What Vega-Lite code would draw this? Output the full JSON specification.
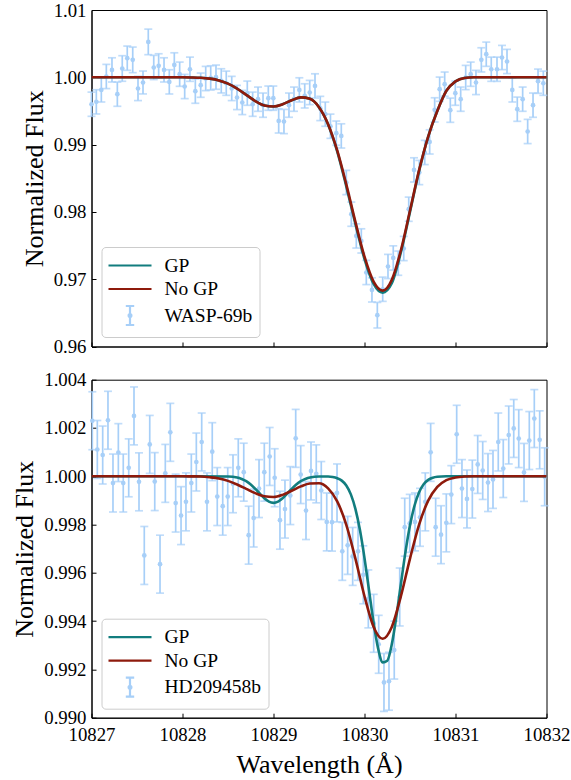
{
  "$schema": "https://vega.github.io/schema/vega-lite/v6.json",
  "background": "white",
  "padding": {"left": 10.5, "top": 0, "right": 0, "bottom": 0},
  "bounds": "flush",
  "spacing": 32.7,
  "config": {
    "view": {"stroke": "black", "strokeWidth": 1},
    "font": "Liberation Serif",
    "axis": {
      "labelFont": "Liberation Serif", "labelFontSize": 18.8, "labelColor": "black",
      "titleFont": "Liberation Serif", "titleFontSize": 26, "titleFontWeight": "normal", "titleColor": "black",
      "domainColor": "black", "domainWidth": 1, "tickColor": "black", "tickWidth": 1, "tickSize": -4.5,
      "grid": false, "labelFlush": false, "labelOverlap": false, "labelPadding": 10
    }
  },
  "resolve": {"scale": {"color": "independent", "shape": "independent", "stroke": "independent"}, "legend": {"color": "independent", "shape": "independent", "stroke": "independent"}},
  "datasets": {
    "top": [
      {"wl": 10827.000, "flux": 0.99600, "err": 0.0018},
      {"wl": 10827.053, "flux": 0.99635, "err": 0.0018},
      {"wl": 10827.108, "flux": 0.99813, "err": 0.0018},
      {"wl": 10827.163, "flux": 1.00012, "err": 0.0018},
      {"wl": 10827.225, "flux": 1.00110, "err": 0.0018},
      {"wl": 10827.284, "flux": 0.99749, "err": 0.0018},
      {"wl": 10827.338, "flux": 1.00131, "err": 0.0019},
      {"wl": 10827.393, "flux": 1.00284, "err": 0.0018},
      {"wl": 10827.453, "flux": 1.00259, "err": 0.0019},
      {"wl": 10827.511, "flux": 0.99834, "err": 0.0018},
      {"wl": 10827.566, "flux": 0.99923, "err": 0.0017},
      {"wl": 10827.624, "flux": 1.00526, "err": 0.0019},
      {"wl": 10827.684, "flux": 1.00146, "err": 0.0018},
      {"wl": 10827.738, "flux": 1.00170, "err": 0.0018},
      {"wl": 10827.797, "flux": 1.00110, "err": 0.0018},
      {"wl": 10827.855, "flux": 0.99932, "err": 0.0018},
      {"wl": 10827.910, "flux": 1.00184, "err": 0.0018},
      {"wl": 10827.969, "flux": 1.00046, "err": 0.0018},
      {"wl": 10828.024, "flux": 0.99863, "err": 0.0018},
      {"wl": 10828.082, "flux": 1.00120, "err": 0.0018},
      {"wl": 10828.141, "flux": 0.99794, "err": 0.0018},
      {"wl": 10828.200, "flux": 0.99883, "err": 0.0018},
      {"wl": 10828.255, "flux": 0.99982, "err": 0.0018},
      {"wl": 10828.310, "flux": 0.99991, "err": 0.0018},
      {"wl": 10828.368, "flux": 1.00002, "err": 0.0018},
      {"wl": 10828.426, "flux": 0.99947, "err": 0.0018},
      {"wl": 10828.481, "flux": 0.99912, "err": 0.0018},
      {"wl": 10828.541, "flux": 0.99834, "err": 0.0018},
      {"wl": 10828.599, "flux": 0.99700, "err": 0.0018},
      {"wl": 10828.657, "flux": 0.99626, "err": 0.0018},
      {"wl": 10828.712, "flux": 0.99764, "err": 0.0018},
      {"wl": 10828.771, "flux": 0.99600, "err": 0.0018},
      {"wl": 10828.830, "flux": 0.99675, "err": 0.0018},
      {"wl": 10828.885, "flux": 0.99586, "err": 0.0018},
      {"wl": 10828.943, "flux": 0.99690, "err": 0.0018},
      {"wl": 10828.998, "flux": 0.99690, "err": 0.0018},
      {"wl": 10829.057, "flux": 0.99352, "err": 0.0018},
      {"wl": 10829.115, "flux": 0.99343, "err": 0.0018},
      {"wl": 10829.170, "flux": 0.99586, "err": 0.0018},
      {"wl": 10829.225, "flux": 0.99675, "err": 0.0018},
      {"wl": 10829.284, "flux": 0.99813, "err": 0.0018},
      {"wl": 10829.343, "flux": 0.99724, "err": 0.0018},
      {"wl": 10829.398, "flux": 0.99774, "err": 0.0018},
      {"wl": 10829.456, "flux": 0.99872, "err": 0.0018},
      {"wl": 10829.514, "flux": 0.99537, "err": 0.0018},
      {"wl": 10829.569, "flux": 0.99452, "err": 0.0018},
      {"wl": 10829.626, "flux": 0.99273, "err": 0.0018},
      {"wl": 10829.690, "flux": 0.99170, "err": 0.0018},
      {"wl": 10829.745, "flux": 0.99129, "err": 0.0018},
      {"wl": 10829.800, "flux": 0.98437, "err": 0.0018},
      {"wl": 10829.855, "flux": 0.97966, "err": 0.0018},
      {"wl": 10829.910, "flux": 0.97643, "err": 0.0018},
      {"wl": 10829.965, "flux": 0.97569, "err": 0.0018},
      {"wl": 10830.020, "flux": 0.97100, "err": 0.0018},
      {"wl": 10830.082, "flux": 0.96841, "err": 0.0018},
      {"wl": 10830.141, "flux": 0.96465, "err": 0.0019},
      {"wl": 10830.200, "flux": 0.96851, "err": 0.0018},
      {"wl": 10830.258, "flux": 0.97189, "err": 0.0018},
      {"wl": 10830.316, "flux": 0.97316, "err": 0.0018},
      {"wl": 10830.371, "flux": 0.97238, "err": 0.0018},
      {"wl": 10830.431, "flux": 0.97456, "err": 0.0018},
      {"wl": 10830.486, "flux": 0.98040, "err": 0.0018},
      {"wl": 10830.544, "flux": 0.98624, "err": 0.0018},
      {"wl": 10830.602, "flux": 0.98585, "err": 0.0018},
      {"wl": 10830.662, "flux": 0.98883, "err": 0.0018},
      {"wl": 10830.716, "flux": 0.99040, "err": 0.0018},
      {"wl": 10830.771, "flux": 0.99516, "err": 0.0018},
      {"wl": 10830.826, "flux": 0.99823, "err": 0.0018},
      {"wl": 10830.881, "flux": 0.99898, "err": 0.0018},
      {"wl": 10830.943, "flux": 0.99511, "err": 0.0018},
      {"wl": 10830.998, "flux": 0.99764, "err": 0.0018},
      {"wl": 10831.057, "flux": 0.99675, "err": 0.0018},
      {"wl": 10831.112, "flux": 0.99997, "err": 0.0018},
      {"wl": 10831.167, "flux": 1.00046, "err": 0.0018},
      {"wl": 10831.225, "flux": 0.99923, "err": 0.0018},
      {"wl": 10831.284, "flux": 1.00259, "err": 0.0018},
      {"wl": 10831.338, "flux": 1.00343, "err": 0.0018},
      {"wl": 10831.393, "flux": 1.00120, "err": 0.0018},
      {"wl": 10831.456, "flux": 1.00120, "err": 0.0018},
      {"wl": 10831.511, "flux": 1.00294, "err": 0.0018},
      {"wl": 10831.566, "flux": 1.00235, "err": 0.0018},
      {"wl": 10831.624, "flux": 0.99813, "err": 0.0018},
      {"wl": 10831.679, "flux": 0.99526, "err": 0.0018},
      {"wl": 10831.738, "flux": 0.99675, "err": 0.0018},
      {"wl": 10831.793, "flux": 0.99195, "err": 0.0018},
      {"wl": 10831.852, "flux": 0.99586, "err": 0.0018},
      {"wl": 10831.907, "flux": 0.99942, "err": 0.0018},
      {"wl": 10831.965, "flux": 0.99912, "err": 0.0018}
    ],
    "topfit": [
      {"model": "GP", "wl": 10827.0, "flux": 1.0},
      {"model": "GP", "wl": 10827.5, "flux": 1.0},
      {"model": "GP", "wl": 10828.0, "flux": 1.0},
      {"model": "GP", "wl": 10828.1, "flux": 0.99998},
      {"model": "GP", "wl": 10828.2, "flux": 0.99993},
      {"model": "GP", "wl": 10828.3, "flux": 0.9998},
      {"model": "GP", "wl": 10828.4, "flux": 0.99954},
      {"model": "GP", "wl": 10828.5, "flux": 0.99906},
      {"model": "GP", "wl": 10828.6, "flux": 0.99832},
      {"model": "GP", "wl": 10828.7, "flux": 0.99739},
      {"model": "GP", "wl": 10828.8, "flux": 0.99647},
      {"model": "GP", "wl": 10828.9, "flux": 0.99582},
      {"model": "GP", "wl": 10829.0, "flux": 0.99566},
      {"model": "GP", "wl": 10829.1, "flux": 0.996},
      {"model": "GP", "wl": 10829.2, "flux": 0.99659},
      {"model": "GP", "wl": 10829.3, "flux": 0.99701},
      {"model": "GP", "wl": 10829.4, "flux": 0.9968},
      {"model": "GP", "wl": 10829.5, "flux": 0.99556},
      {"model": "GP", "wl": 10829.6, "flux": 0.99300},
      {"model": "GP", "wl": 10829.7, "flux": 0.98900},
      {"model": "GP", "wl": 10829.8, "flux": 0.98380},
      {"model": "GP", "wl": 10829.9, "flux": 0.97820},
      {"model": "GP", "wl": 10830.0, "flux": 0.97300},
      {"model": "GP", "wl": 10830.1, "flux": 0.96930},
      {"model": "GP", "wl": 10830.2, "flux": 0.96800},
      {"model": "GP", "wl": 10830.3, "flux": 0.96940},
      {"model": "GP", "wl": 10830.4, "flux": 0.97400},
      {"model": "GP", "wl": 10830.5, "flux": 0.98000},
      {"model": "GP", "wl": 10830.6, "flux": 0.98610},
      {"model": "GP", "wl": 10830.7, "flux": 0.99120},
      {"model": "GP", "wl": 10830.8, "flux": 0.99500},
      {"model": "GP", "wl": 10830.9, "flux": 0.99800},
      {"model": "GP", "wl": 10831.0, "flux": 0.99940},
      {"model": "GP", "wl": 10831.1, "flux": 0.99990},
      {"model": "GP", "wl": 10831.2, "flux": 1.0},
      {"model": "GP", "wl": 10831.5, "flux": 1.0},
      {"model": "GP", "wl": 10832.0, "flux": 1.0},
      {"model": "No GP", "wl": 10827.0, "flux": 1.0},
      {"model": "No GP", "wl": 10827.5, "flux": 1.0},
      {"model": "No GP", "wl": 10828.0, "flux": 1.0},
      {"model": "No GP", "wl": 10828.1, "flux": 0.99998},
      {"model": "No GP", "wl": 10828.2, "flux": 0.99993},
      {"model": "No GP", "wl": 10828.3, "flux": 0.9998},
      {"model": "No GP", "wl": 10828.4, "flux": 0.99954},
      {"model": "No GP", "wl": 10828.5, "flux": 0.99906},
      {"model": "No GP", "wl": 10828.6, "flux": 0.99832},
      {"model": "No GP", "wl": 10828.7, "flux": 0.99739},
      {"model": "No GP", "wl": 10828.8, "flux": 0.99647},
      {"model": "No GP", "wl": 10828.9, "flux": 0.99582},
      {"model": "No GP", "wl": 10829.0, "flux": 0.99566},
      {"model": "No GP", "wl": 10829.1, "flux": 0.996},
      {"model": "No GP", "wl": 10829.2, "flux": 0.99659},
      {"model": "No GP", "wl": 10829.3, "flux": 0.99701},
      {"model": "No GP", "wl": 10829.4, "flux": 0.9968},
      {"model": "No GP", "wl": 10829.5, "flux": 0.99556},
      {"model": "No GP", "wl": 10829.6, "flux": 0.99304},
      {"model": "No GP", "wl": 10829.7, "flux": 0.98914},
      {"model": "No GP", "wl": 10829.8, "flux": 0.98409},
      {"model": "No GP", "wl": 10829.9, "flux": 0.97851},
      {"model": "No GP", "wl": 10830.0, "flux": 0.97334},
      {"model": "No GP", "wl": 10830.1, "flux": 0.96964},
      {"model": "No GP", "wl": 10830.2, "flux": 0.9683},
      {"model": "No GP", "wl": 10830.3, "flux": 0.9699},
      {"model": "No GP", "wl": 10830.4, "flux": 0.9743},
      {"model": "No GP", "wl": 10830.5, "flux": 0.9802},
      {"model": "No GP", "wl": 10830.6, "flux": 0.9862},
      {"model": "No GP", "wl": 10830.7, "flux": 0.9912},
      {"model": "No GP", "wl": 10830.8, "flux": 0.9950},
      {"model": "No GP", "wl": 10830.9, "flux": 0.9980},
      {"model": "No GP", "wl": 10831.0, "flux": 0.9994},
      {"model": "No GP", "wl": 10831.1, "flux": 0.9999},
      {"model": "No GP", "wl": 10831.2, "flux": 1.0},
      {"model": "No GP", "wl": 10831.5, "flux": 1.0},
      {"model": "No GP", "wl": 10832.0, "flux": 1.0}
    ],
    "topkeys": [
      {"model": "GP", "wl": 10829.0, "flux": 1.0},
      {"model": "No GP", "wl": 10829.0, "flux": 1.0},
      {"model": "WASP-69b", "wl": 10829.0, "flux": 1.0}
    ],
    "bot": [
      {"wl": 10827.009, "flux": 1.00230, "err": 0.0012},
      {"wl": 10827.064, "flux": 1.00111, "err": 0.0012},
      {"wl": 10827.123, "flux": 1.00088, "err": 0.0012},
      {"wl": 10827.181, "flux": 1.00232, "err": 0.0012},
      {"wl": 10827.236, "flux": 0.99972, "err": 0.0012},
      {"wl": 10827.295, "flux": 1.00098, "err": 0.0012},
      {"wl": 10827.349, "flux": 0.99972, "err": 0.0012},
      {"wl": 10827.409, "flux": 1.00035, "err": 0.0012},
      {"wl": 10827.467, "flux": 1.00250, "err": 0.0012},
      {"wl": 10827.522, "flux": 0.99977, "err": 0.0012},
      {"wl": 10827.580, "flux": 0.99672, "err": 0.0012},
      {"wl": 10827.640, "flux": 1.00132, "err": 0.0012},
      {"wl": 10827.695, "flux": 0.99978, "err": 0.0012},
      {"wl": 10827.753, "flux": 0.99636, "err": 0.0012},
      {"wl": 10827.811, "flux": 1.00012, "err": 0.0012},
      {"wl": 10827.866, "flux": 1.00182, "err": 0.0012},
      {"wl": 10827.925, "flux": 0.99889, "err": 0.0012},
      {"wl": 10827.984, "flux": 0.99837, "err": 0.0012},
      {"wl": 10828.038, "flux": 0.99894, "err": 0.0012},
      {"wl": 10828.097, "flux": 0.99972, "err": 0.0012},
      {"wl": 10828.152, "flux": 1.00059, "err": 0.0012},
      {"wl": 10828.211, "flux": 1.00142, "err": 0.0012},
      {"wl": 10828.269, "flux": 0.99894, "err": 0.0012},
      {"wl": 10828.327, "flux": 1.00102, "err": 0.0012},
      {"wl": 10828.382, "flux": 0.99916, "err": 0.0012},
      {"wl": 10828.442, "flux": 0.99876, "err": 0.0012},
      {"wl": 10828.497, "flux": 0.99916, "err": 0.0012},
      {"wl": 10828.555, "flux": 0.99969, "err": 0.0012},
      {"wl": 10828.613, "flux": 1.00035, "err": 0.0012},
      {"wl": 10828.673, "flux": 1.00017, "err": 0.0012},
      {"wl": 10828.727, "flux": 0.99756, "err": 0.0012},
      {"wl": 10828.782, "flux": 0.99827, "err": 0.0012},
      {"wl": 10828.841, "flux": 0.99949, "err": 0.0012},
      {"wl": 10828.899, "flux": 1.00017, "err": 0.0012},
      {"wl": 10828.958, "flux": 1.00082, "err": 0.0012},
      {"wl": 10829.013, "flux": 0.99994, "err": 0.0012},
      {"wl": 10829.071, "flux": 0.99818, "err": 0.0012},
      {"wl": 10829.126, "flux": 0.99864, "err": 0.0012},
      {"wl": 10829.185, "flux": 0.99920, "err": 0.0012},
      {"wl": 10829.244, "flux": 1.00157, "err": 0.0012},
      {"wl": 10829.299, "flux": 1.00007, "err": 0.0012},
      {"wl": 10829.357, "flux": 0.99858, "err": 0.0012},
      {"wl": 10829.412, "flux": 1.00022, "err": 0.0012},
      {"wl": 10829.470, "flux": 1.00010, "err": 0.0012},
      {"wl": 10829.525, "flux": 0.99941, "err": 0.0012},
      {"wl": 10829.585, "flux": 0.99811, "err": 0.0012},
      {"wl": 10829.643, "flux": 0.99810, "err": 0.0012},
      {"wl": 10829.698, "flux": 0.99931, "err": 0.0012},
      {"wl": 10829.756, "flux": 0.99689, "err": 0.0012},
      {"wl": 10829.815, "flux": 0.99714, "err": 0.0012},
      {"wl": 10829.870, "flux": 0.99668, "err": 0.0012},
      {"wl": 10829.929, "flux": 0.99689, "err": 0.0012},
      {"wl": 10829.987, "flux": 0.99592, "err": 0.0012},
      {"wl": 10830.042, "flux": 0.99492, "err": 0.0012},
      {"wl": 10830.101, "flux": 0.99391, "err": 0.0012},
      {"wl": 10830.156, "flux": 0.99304, "err": 0.0012},
      {"wl": 10830.214, "flux": 0.99146, "err": 0.0012},
      {"wl": 10830.269, "flux": 0.99151, "err": 0.0012},
      {"wl": 10830.327, "flux": 0.99280, "err": 0.0012},
      {"wl": 10830.387, "flux": 0.99500, "err": 0.0012},
      {"wl": 10830.442, "flux": 0.99789, "err": 0.0012},
      {"wl": 10830.497, "flux": 0.99805, "err": 0.0012},
      {"wl": 10830.555, "flux": 0.99811, "err": 0.0012},
      {"wl": 10830.610, "flux": 0.99830, "err": 0.0012},
      {"wl": 10830.668, "flux": 0.99894, "err": 0.0012},
      {"wl": 10830.727, "flux": 1.00099, "err": 0.0012},
      {"wl": 10830.782, "flux": 0.99789, "err": 0.0012},
      {"wl": 10830.841, "flux": 0.99758, "err": 0.0012},
      {"wl": 10830.899, "flux": 0.99807, "err": 0.0012},
      {"wl": 10830.954, "flux": 0.99924, "err": 0.0012},
      {"wl": 10831.013, "flux": 1.00174, "err": 0.0012},
      {"wl": 10831.071, "flux": 0.99949, "err": 0.0012},
      {"wl": 10831.126, "flux": 0.99906, "err": 0.0012},
      {"wl": 10831.185, "flux": 0.99947, "err": 0.0012},
      {"wl": 10831.244, "flux": 1.00049, "err": 0.0012},
      {"wl": 10831.299, "flux": 1.00024, "err": 0.0012},
      {"wl": 10831.357, "flux": 0.99974, "err": 0.0012},
      {"wl": 10831.412, "flux": 0.99987, "err": 0.0012},
      {"wl": 10831.470, "flux": 1.00142, "err": 0.0012},
      {"wl": 10831.525, "flux": 1.00032, "err": 0.0012},
      {"wl": 10831.585, "flux": 1.00171, "err": 0.0012},
      {"wl": 10831.640, "flux": 1.00198, "err": 0.0012},
      {"wl": 10831.695, "flux": 1.00156, "err": 0.0012},
      {"wl": 10831.753, "flux": 1.00016, "err": 0.0012},
      {"wl": 10831.811, "flux": 1.00148, "err": 0.0012},
      {"wl": 10831.866, "flux": 1.00239, "err": 0.0012},
      {"wl": 10831.925, "flux": 1.00151, "err": 0.0012},
      {"wl": 10831.980, "flux": 0.99998, "err": 0.0012}
    ],
    "botfit": [
      {"model": "GP", "wl": 10827.0, "flux": 1.0},
      {"model": "GP", "wl": 10828.0, "flux": 1.0},
      {"model": "GP", "wl": 10828.5, "flux": 0.99999},
      {"model": "GP", "wl": 10828.6, "flux": 0.99995},
      {"model": "GP", "wl": 10828.65, "flux": 0.99989},
      {"model": "GP", "wl": 10828.7, "flux": 0.9998},
      {"model": "GP", "wl": 10828.75, "flux": 0.99966},
      {"model": "GP", "wl": 10828.8, "flux": 0.99948},
      {"model": "GP", "wl": 10828.85, "flux": 0.99928},
      {"model": "GP", "wl": 10828.9, "flux": 0.99909},
      {"model": "GP", "wl": 10828.95, "flux": 0.99895},
      {"model": "GP", "wl": 10829.0, "flux": 0.9989},
      {"model": "GP", "wl": 10829.05, "flux": 0.99895},
      {"model": "GP", "wl": 10829.1, "flux": 0.99909},
      {"model": "GP", "wl": 10829.15, "flux": 0.99928},
      {"model": "GP", "wl": 10829.2, "flux": 0.99948},
      {"model": "GP", "wl": 10829.25, "flux": 0.99966},
      {"model": "GP", "wl": 10829.3, "flux": 0.9998},
      {"model": "GP", "wl": 10829.35, "flux": 0.99989},
      {"model": "GP", "wl": 10829.4, "flux": 0.99995},
      {"model": "GP", "wl": 10829.5, "flux": 0.99999},
      {"model": "GP", "wl": 10829.6, "flux": 0.99999},
      {"model": "GP", "wl": 10829.65, "flux": 0.99997},
      {"model": "GP", "wl": 10829.7, "flux": 0.99992},
      {"model": "GP", "wl": 10829.75, "flux": 0.99982},
      {"model": "GP", "wl": 10829.8, "flux": 0.99962},
      {"model": "GP", "wl": 10829.85, "flux": 0.99925},
      {"model": "GP", "wl": 10829.9, "flux": 0.99865},
      {"model": "GP", "wl": 10829.95, "flux": 0.99777},
      {"model": "GP", "wl": 10830.0, "flux": 0.99661},
      {"model": "GP", "wl": 10830.05, "flux": 0.99527},
      {"model": "GP", "wl": 10830.1, "flux": 0.99393},
      {"model": "GP", "wl": 10830.15, "flux": 0.99286},
      {"model": "GP", "wl": 10830.2, "flux": 0.99229},
      {"model": "GP", "wl": 10830.25, "flux": 0.99236},
      {"model": "GP", "wl": 10830.3, "flux": 0.99304},
      {"model": "GP", "wl": 10830.35, "flux": 0.99419},
      {"model": "GP", "wl": 10830.4, "flux": 0.99554},
      {"model": "GP", "wl": 10830.45, "flux": 0.99686},
      {"model": "GP", "wl": 10830.5, "flux": 0.99797},
      {"model": "GP", "wl": 10830.55, "flux": 0.99879},
      {"model": "GP", "wl": 10830.6, "flux": 0.99934},
      {"model": "GP", "wl": 10830.65, "flux": 0.99967},
      {"model": "GP", "wl": 10830.7, "flux": 0.99985},
      {"model": "GP", "wl": 10830.75, "flux": 0.99994},
      {"model": "GP", "wl": 10830.8, "flux": 0.99998},
      {"model": "GP", "wl": 10830.9, "flux": 1.0},
      {"model": "GP", "wl": 10832.0, "flux": 1.0},
      {"model": "No GP", "wl": 10827.0, "flux": 1.0},
      {"model": "No GP", "wl": 10828.0, "flux": 1.0},
      {"model": "No GP", "wl": 10828.1, "flux": 0.999995},
      {"model": "No GP", "wl": 10828.2, "flux": 0.99999},
      {"model": "No GP", "wl": 10828.3, "flux": 0.99996},
      {"model": "No GP", "wl": 10828.4, "flux": 0.99991},
      {"model": "No GP", "wl": 10828.5, "flux": 0.99981},
      {"model": "No GP", "wl": 10828.6, "flux": 0.99966},
      {"model": "No GP", "wl": 10828.7, "flux": 0.99948},
      {"model": "No GP", "wl": 10828.8, "flux": 0.9993},
      {"model": "No GP", "wl": 10828.9, "flux": 0.99917},
      {"model": "No GP", "wl": 10829.0, "flux": 0.99914},
      {"model": "No GP", "wl": 10829.1, "flux": 0.99923},
      {"model": "No GP", "wl": 10829.2, "flux": 0.9994},
      {"model": "No GP", "wl": 10829.3, "flux": 0.99958},
      {"model": "No GP", "wl": 10829.4, "flux": 0.9997},
      {"model": "No GP", "wl": 10829.5, "flux": 0.99971},
      {"model": "No GP", "wl": 10829.6, "flux": 0.9995},
      {"model": "No GP", "wl": 10829.7, "flux": 0.99896},
      {"model": "No GP", "wl": 10829.8, "flux": 0.99799},
      {"model": "No GP", "wl": 10829.9, "flux": 0.99659},
      {"model": "No GP", "wl": 10830.0, "flux": 0.99503},
      {"model": "No GP", "wl": 10830.1, "flux": 0.99376},
      {"model": "No GP", "wl": 10830.2, "flux": 0.99327},
      {"model": "No GP", "wl": 10830.3, "flux": 0.99376},
      {"model": "No GP", "wl": 10830.4, "flux": 0.99503},
      {"model": "No GP", "wl": 10830.5, "flux": 0.99659},
      {"model": "No GP", "wl": 10830.6, "flux": 0.998},
      {"model": "No GP", "wl": 10830.7, "flux": 0.99899},
      {"model": "No GP", "wl": 10830.8, "flux": 0.99956},
      {"model": "No GP", "wl": 10830.9, "flux": 0.99984},
      {"model": "No GP", "wl": 10831.0, "flux": 0.99995},
      {"model": "No GP", "wl": 10831.1, "flux": 0.99999},
      {"model": "No GP", "wl": 10831.2, "flux": 1.0},
      {"model": "No GP", "wl": 10832.0, "flux": 1.0}
    ],
    "botkeys": [
      {"model": "GP", "wl": 10829.0, "flux": 1.0},
      {"model": "No GP", "wl": 10829.0, "flux": 1.0},
      {"model": "HD209458b", "wl": 10829.0, "flux": 1.0}
    ]
  },
  "vconcat": [
    {
      "width": 455,
      "height": 336.5,
      "layer": [
        {
          "data": {"name": "top"},
          "mark": {"type": "errorbar", "ticks": {"size": 8}, "thickness": 1.7, "color": "#a7cff8"},
          "encoding": {
            "x": {"field": "wl", "type": "quantitative", "scale": {"domain": [10827, 10832], "nice": false, "zero": false},
                  "axis": {"values": [10827, 10828, 10829, 10830, 10831, 10832], "labels": false, "title": null}},
            "y": {"field": "flux", "type": "quantitative", "scale": {"domain": [0.96, 1.01], "nice": false, "zero": false},
                  "axis": {"values": [0.96, 0.97, 0.98, 0.99, 1.0, 1.01], "format": ".2f", "title": "Normalized Flux", "titlePadding": 6}},
            "yError": {"field": "err"}
          }
        },
        {
          "data": {"name": "top"},
          "mark": {"type": "point", "filled": true, "size": 22, "opacity": 1, "color": "#a7cff8"},
          "encoding": {
            "x": {"field": "wl", "type": "quantitative"},
            "y": {"field": "flux", "type": "quantitative"}
          }
        },
        {
          "data": {"name": "topfit"},
          "mark": {"type": "line", "strokeWidth": 2.6, "interpolate": "monotone"},
          "encoding": {
            "x": {"field": "wl", "type": "quantitative"},
            "y": {"field": "flux", "type": "quantitative"},
            "stroke": {"field": "model", "type": "nominal",
                      "scale": {"domain": ["GP", "No GP"], "range": ["#127d7e", "#8e1a0c"]},
                      "legend": null}
          }
        },
        {
          "data": {"name": "topkeys"},
          "mark": {"type": "point", "filled": false, "opacity": 0, "strokeWidth": 2.2},
          "encoding": {
            "x": {"field": "wl", "type": "quantitative"},
            "y": {"field": "flux", "type": "quantitative"},
            "color": {"field": "model", "type": "nominal",
                      "scale": {"domain": ["GP", "No GP", "WASP-69b"], "range": ["#127d7e", "#8e1a0c", "#a7cff8"]},
                      "legend": {"title": null, "orient": "bottom-left", "offset": 9.5, "direction": "vertical", "padding": 7, "rowPadding": 2.5,
                                 "symbolSize": 400, "symbolStrokeWidth": 2.2, "symbolOpacity": 1, "symbolOffset": 10, "labelOffset": 23,
                                 "labelFont": "Liberation Serif", "labelFontSize": 19.5, "labelColor": "black",
                                 "fillColor": "rgba(255,255,255,0.8)", "strokeColor": "#cccccc", "cornerRadius": 4}},
            "shape": {"field": "model", "type": "nominal",
                      "scale": {"domain": ["GP", "No GP", "WASP-69b"], "range": ["M-2.15,0H2.15", "M-2.15,0H2.15", "M0,-0.95V0.95M-0.42,-0.95H0.42M-0.42,0.95H0.42M0.14,0A0.14,0.14,0,1,1,-0.14,0A0.14,0.14,0,1,1,0.14,0"]},
                      "legend": {"title": null, "orient": "bottom-left", "offset": 9.5, "direction": "vertical", "padding": 7, "rowPadding": 2.5,
                                 "symbolSize": 400, "symbolStrokeWidth": 2.2, "symbolOpacity": 1, "symbolOffset": 10, "labelOffset": 23,
                                 "labelFont": "Liberation Serif", "labelFontSize": 19.5, "labelColor": "black",
                                 "fillColor": "rgba(255,255,255,0.8)", "strokeColor": "#cccccc", "cornerRadius": 4}}
          }
        }
      ]
    },
    {
      "width": 455,
      "height": 338,
      "layer": [
        {
          "data": {"name": "bot"},
          "mark": {"type": "errorbar", "ticks": {"size": 8}, "thickness": 1.7, "color": "#a7cff8"},
          "encoding": {
            "x": {"field": "wl", "type": "quantitative", "scale": {"domain": [10827, 10832], "nice": false, "zero": false},
                  "axis": {"values": [10827, 10828, 10829, 10830, 10831, 10832], "format": "d", "title": "Wavelength (Å)", "titlePadding": 7, "labelPadding": 12}},
            "y": {"field": "flux", "type": "quantitative", "scale": {"domain": [0.99, 1.004], "nice": false, "zero": false},
                  "axis": {"values": [0.990, 0.992, 0.994, 0.996, 0.998, 1.000, 1.002, 1.004], "format": ".3f", "title": "Normalized Flux", "titlePadding": 6}},
            "yError": {"field": "err"}
          }
        },
        {
          "data": {"name": "bot"},
          "mark": {"type": "point", "filled": true, "size": 22, "opacity": 1, "color": "#a7cff8"},
          "encoding": {
            "x": {"field": "wl", "type": "quantitative"},
            "y": {"field": "flux", "type": "quantitative"}
          }
        },
        {
          "data": {"name": "botfit"},
          "mark": {"type": "line", "strokeWidth": 2.6, "interpolate": "monotone"},
          "encoding": {
            "x": {"field": "wl", "type": "quantitative"},
            "y": {"field": "flux", "type": "quantitative"},
            "stroke": {"field": "model", "type": "nominal",
                      "scale": {"domain": ["GP", "No GP"], "range": ["#127d7e", "#8e1a0c"]},
                      "legend": null}
          }
        },
        {
          "data": {"name": "botkeys"},
          "mark": {"type": "point", "filled": false, "opacity": 0, "strokeWidth": 2.2},
          "encoding": {
            "x": {"field": "wl", "type": "quantitative"},
            "y": {"field": "flux", "type": "quantitative"},
            "color": {"field": "model", "type": "nominal",
                      "scale": {"domain": ["GP", "No GP", "HD209458b"], "range": ["#127d7e", "#8e1a0c", "#a7cff8"]},
                      "legend": {"title": null, "orient": "bottom-left", "offset": 9.5, "direction": "vertical", "padding": 7, "rowPadding": 2.5,
                                 "symbolSize": 400, "symbolStrokeWidth": 2.2, "symbolOpacity": 1, "symbolOffset": 10, "labelOffset": 23,
                                 "labelFont": "Liberation Serif", "labelFontSize": 19.5, "labelColor": "black",
                                 "fillColor": "rgba(255,255,255,0.8)", "strokeColor": "#cccccc", "cornerRadius": 4}},
            "shape": {"field": "model", "type": "nominal",
                      "scale": {"domain": ["GP", "No GP", "HD209458b"], "range": ["M-2.15,0H2.15", "M-2.15,0H2.15", "M0,-0.95V0.95M-0.42,-0.95H0.42M-0.42,0.95H0.42M0.14,0A0.14,0.14,0,1,1,-0.14,0A0.14,0.14,0,1,1,0.14,0"]},
                      "legend": {"title": null, "orient": "bottom-left", "offset": 9.5, "direction": "vertical", "padding": 7, "rowPadding": 2.5,
                                 "symbolSize": 400, "symbolStrokeWidth": 2.2, "symbolOpacity": 1, "symbolOffset": 10, "labelOffset": 23,
                                 "labelFont": "Liberation Serif", "labelFontSize": 19.5, "labelColor": "black",
                                 "fillColor": "rgba(255,255,255,0.8)", "strokeColor": "#cccccc", "cornerRadius": 4}}
          }
        }
      ]
    }
  ]
}
